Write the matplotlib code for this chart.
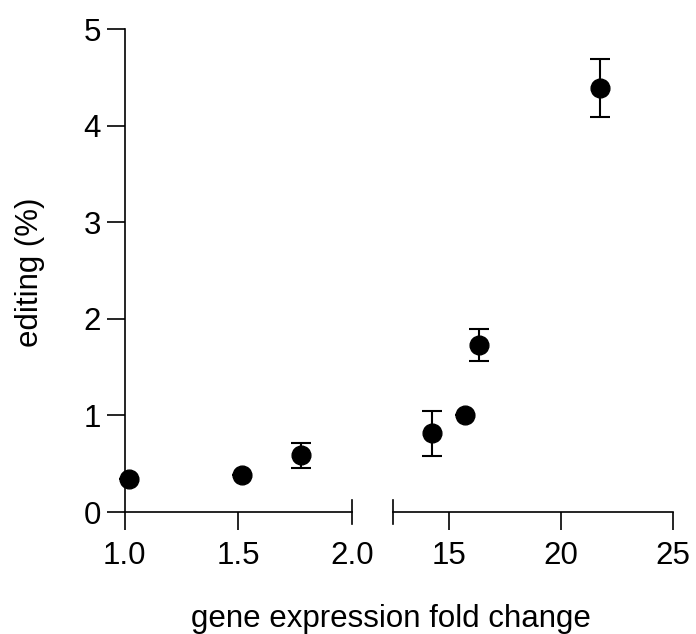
import numpy as np
import matplotlib.pyplot as plt

plt.rcParams['font.family'] = ['Liberation Sans', 'DejaVu Sans']

# low fold-change points (left panel)
x_low = [1.02, 1.516, 1.777]
y_low = [0.34, 0.38, 0.59]
err_low = [0.0, 0.0, 0.13]

# high fold-change points (right panel)
x_high = [14.23, 15.71, 16.35, 21.77]
y_high = [0.815, 1.01, 1.73, 4.39]
err_high = [0.23, 0.0, 0.165, 0.30]

low_ticks = [1.0, 1.5, 2.0]
low_ticklabels = ['1.0', '1.5', '2.0']
high_ticks = [15, 20, 25]
y_ticks = [0, 1, 2, 3, 4, 5]

fs = 22.5
lw = 1.2

fig = plt.figure(figsize=(6.96, 6.34), dpi=100)
ax1 = fig.add_axes([0.1792, 0.1924, 0.3261, 0.7614])
ax2 = fig.add_axes([0.5647, 0.1924, 0.4019, 0.7614])

def style(ax):
    ax.spines['top'].set_visible(False)
    ax.spines['right'].set_visible(False)
    for s in ax.spines.values():
        s.set_linewidth(lw)
    ax.tick_params(axis='both', direction='out', length=13, width=lw,
                   labelsize=fs, pad=8)
    ax.tick_params(axis='y', pad=4)

for ax, xs, ys, es in [(ax1, x_low, y_low, err_low), (ax2, x_high, y_high, err_high)]:
    ax.errorbar(xs, ys, yerr=es, fmt='o', color='black', ms=13.5,
                elinewidth=1.5, capsize=7, capthick=1.5, clip_on=False, zorder=3)
    ax.set_ylim(0, 5)
    style(ax)

ax1.set_xlim(1.0, 2.0)
ax1.set_xticks(low_ticks)
ax1.set_xticklabels(low_ticklabels)
ax1.set_yticks(y_ticks)
ax1.xaxis.get_major_ticks()[2].tick1line.set_visible(False)

ax2.set_xlim(12.5, 25)
ax2.set_xticks(high_ticks)
ax2.spines['left'].set_visible(False)
ax2.set_yticks([])

# break marks at the ends of the two x-axes
bar = 12 / (0.7614 * 634)
ax1.plot([1, 1], [-bar, bar], transform=ax1.transAxes, color='black',
         lw=lw, clip_on=False)
ax2.plot([0, 0], [-bar, bar], transform=ax2.transAxes, color='black',
         lw=lw, clip_on=False)

fig.text(0.562, 0.024, 'gene expression fold change', ha='center', va='center', fontsize=fs)
fig.text(0.043, 0.571, 'editing (%)', ha='center', va='center', rotation=90, fontsize=fs)

fig.savefig('out.png', dpi=100)
